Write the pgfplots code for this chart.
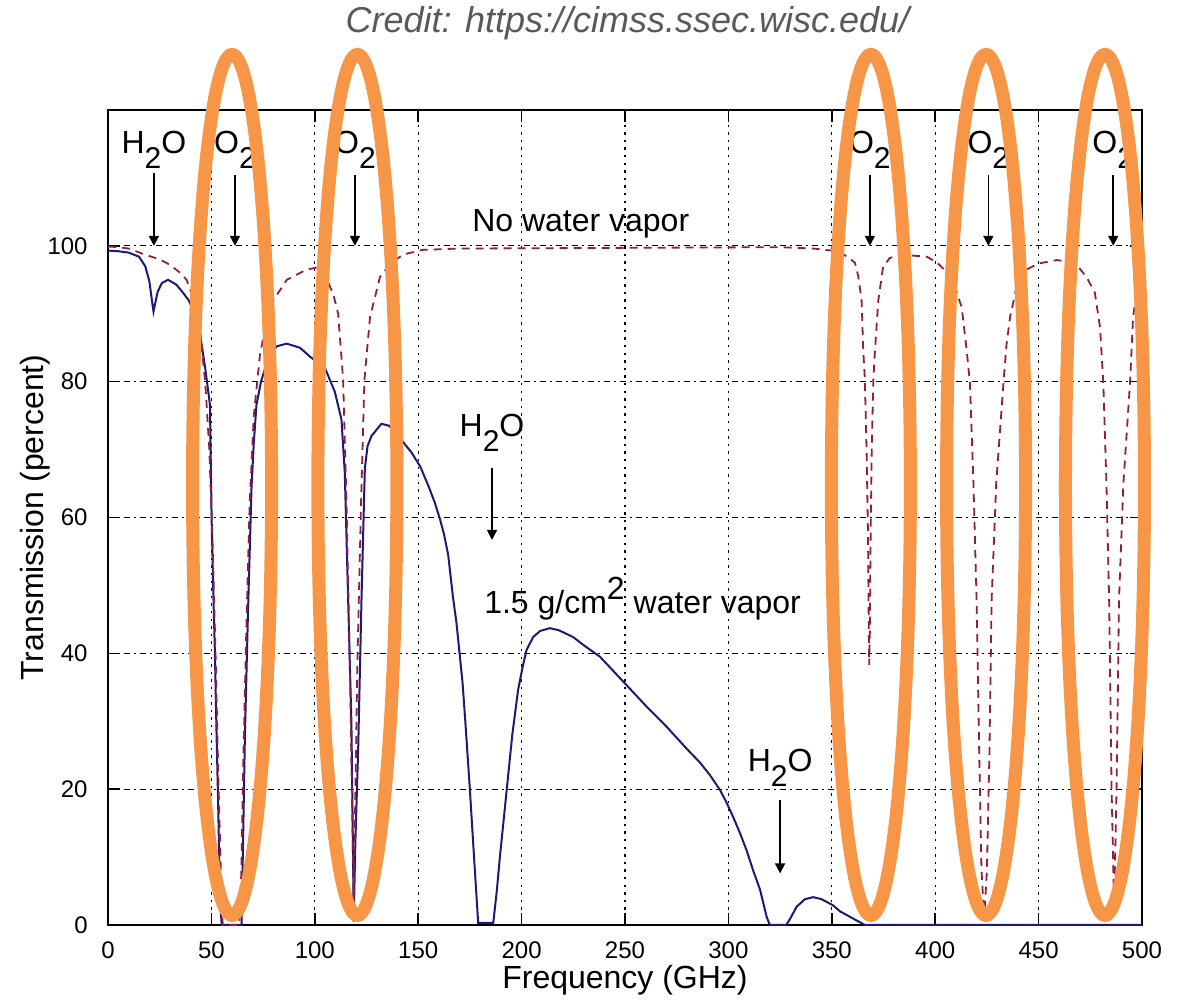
\documentclass[border=0pt]{standalone}
\usepackage{fontspec}
\setmainfont{Liberation Sans}
\usepackage{pgfplots}
\pgfplotsset{compat=1.18}
\usetikzlibrary{arrows.meta}

\definecolor{ringorange}{HTML}{F79646}
\definecolor{wetblue}{RGB}{30,25,115}
\definecolor{dryred}{RGB}{145,30,60}
\definecolor{creditgrey}{HTML}{595959}

% chemical formula with the low-set subscript of the original
\newcommand{\chem}[2]{#1\raisebox{-7.5pt}{\fontsize{15}{15}\selectfont #2}}
\newcommand{\annfont}{\fontsize{16}{16}\selectfont}

% 1.5 g/cm^2 water vapor
\pgfplotstableread{
f t
0 99.3
5 99.2
10 99.0
15 98.4
18 97.0
20 94.8
21 92.5
22 90.3
23 91.8
24 93.2
26 94.5
29 95.0
33 94.3
36 93.2
39 92.0
42 90.0
44.5 87.0
47 82.0
49.3 76.6
50.1 60
51 48
51.7 40
52.5 28
53.2 18.7
54.2 3.4
55 0
64.6 0
65.3 12
66.2 27.8
67.7 46.1
69.4 64.4
70.5 71
71.8 76.6
74 80
76.7 82.7
81.5 85.2
86.4 85.6
92.8 85.0
98 83.6
104.8 82.1
109.7 78.5
112.9 74.4
114.5 66.6
116.1 48.2
117.7 29.8
118.5 10
118.8 0.5
119.6 12
121 26.2
122.6 48.2
124.2 67.2
125.5 70.5
127.4 72.0
132.2 73.8
136 73.5
140.3 72.0
146.7 69.6
151 67.5
155 64.6
158 62.2
160.5 59.8
162.5 57.5
164.5 54.5
166.8 48.3
168.5 44.5
170 40
171.5 35.5
173 29
175 19.9
177 10
179 0.3
186.3 0.3
188 5
189.5 10
192.8 19.9
195.5 28
198.3 34.6
200.5 38
202.4 40.5
205.6 42.4
209 43.3
213.7 43.7
218 43.4
224.9 42.4
230 41.2
237.9 39.5
250.8 35.3
260 32.3
270.1 29.2
280 25.9
286.3 23.9
291 22.1
295.9 19.9
299 18.1
302.3 15.9
305.5 13.6
308.8 11
312 8
315.3 5.2
318.5 1.2
320 0
328 0
330 1
333 2.7
337 3.8
341 4.1
345 3.8
350.6 2.9
354 2
358.8 1.2
363.6 0.4
366 0
500 0
}\wettable

% no water vapor
\pgfplotstableread{
f t
0 99.9
5 99.8
10 99.6
17 98.8
25 98.0
30 97.2
35 96.0
38 95.0
41 92.5
44.5 87.6
47 80
49 70
50.5 57
52 40
53.5 20
55 3
55.5 0
63.5 0
64.5 8
65.5 25
67 45
68.5 62
70.5 75
73.5 84
77.4 90
80 92
86.5 95
96 96.5
101 96.8
106 95
109 92.8
111.3 90
113.7 80.3
115.3 62.5
116.9 38.7
118.2 15
118.8 3
119.4 15
120.6 38.7
122.4 62.5
124 80.3
126.7 89.5
131.5 95.4
136 97.2
142.6 98.7
152 99.4
170 99.6
250 99.7
325 99.8
341 99.6
350 99.3
354 99.0
358 98.3
361.2 97.5
362.8 95.5
364.4 92
365.2 84.7
366 80.3
366.8 70
367.5 57.7
367.9 43
368.1 38.3
368.4 43
368.8 57.7
369.3 70
370.1 80.3
370.9 84.7
372.5 92
374.8 96.9
378 98.2
383 98.7
396 98.4
401 97.5
405 96.3
408.6 94.7
412.8 91
415.2 84.7
416.8 79.8
418.5 65
420 48
421.3 25
422.4 8
423.7 1
425 8
426.2 25
427.3 48
429.5 65
433 79.8
434.5 85.5
436.2 89.5
439.4 94
444.2 96.5
450 97.4
458.7 97.9
464 97.7
468.4 97.2
473.2 95.4
477.2 93.1
479.7 88
481.3 79.8
482.8 65
484.1 48
485.3 20
486.5 3
487.7 20
488.9 48
491 65
494.2 79.8
495.7 89.5
498 94.7
500 96
}\drytable

\begin{document}
\begin{tikzpicture}
\begin{axis}[
    scale only axis,
    width=517pt, height=407.5pt,
    xmin=0, xmax=500, ymin=0, ymax=120,
    xtick={0,50,...,500},
    ytick={0,20,...,100},
    tick align=inside,
    major tick length=6pt,
    xtick pos=both, ytick pos=both,
    grid=major,
    major x grid style={black, line width=0.6pt, dash pattern=on 1.2pt off 2.6pt},
    major y grid style={black, line width=0.6pt, dash pattern=on 3pt off 2pt on 1pt off 2pt},
    axis line style={black, line width=1pt},
    tick style={black, line width=0.8pt},
    ticklabel style={font=\fontsize{12}{12}\selectfont, inner sep=1pt},
    xticklabel style={yshift=-7pt},
    yticklabel style={xshift=-9pt},
    /pgf/number format/assume math mode=true,
    xlabel={Frequency (GHz)},
    ylabel={Transmission (percent)},
    label style={font=\fontsize{16}{16}\selectfont, inner sep=1pt},
    xlabel style={at={(axis description cs:0.5,-0.0785)}, anchor=base},
    ylabel style={at={(axis description cs:-0.0706,0.5)}, anchor=center},
    clip=false,
]

\addplot[wetblue, line width=1pt] table[x=f, y=t] {\wettable};
\addplot[dryred, line width=0.9pt, dash pattern=on 4pt off 3pt] table[x=f, y=t] {\drytable};

% annotations
\node[anchor=base, font=\annfont] at (axis cs:22.2,113.6) {\chem{H}{2}O};
\draw[line width=0.8pt, -{Triangle[length=5pt,width=5pt]}] (axis cs:22.2,110.7) -- (axis cs:22.2,100);

\node[anchor=base, font=\annfont] at (axis cs:61.4,113.6) {\chem{O}{2}};
\draw[line width=0.8pt, -{Triangle[length=5pt,width=5pt]}] (axis cs:61.4,110.5) -- (axis cs:61.4,100);
\node[anchor=base, font=\annfont] at (axis cs:119.4,113.6) {\chem{O}{2}};
\draw[line width=0.8pt, -{Triangle[length=5pt,width=5pt]}] (axis cs:119.4,110.5) -- (axis cs:119.4,100);
\node[anchor=base, font=\annfont] at (axis cs:368.4,113.6) {\chem{O}{2}};
\draw[line width=0.8pt, -{Triangle[length=5pt,width=5pt]}] (axis cs:368.4,110.5) -- (axis cs:368.4,100);
\node[anchor=base, font=\annfont] at (axis cs:425.7,113.6) {\chem{O}{2}};
\draw[line width=0.8pt, -{Triangle[length=5pt,width=5pt]}] (axis cs:425.7,110.5) -- (axis cs:425.7,100);
\node[anchor=base, font=\annfont] at (axis cs:486.1,113.6) {\chem{O}{2}};
\draw[line width=0.8pt, -{Triangle[length=5pt,width=5pt]}] (axis cs:486.1,110.5) -- (axis cs:486.1,100);

\node[anchor=base, font=\annfont] at (axis cs:228.6,102.1) {No water vapor};
\node[anchor=base, font=\annfont] at (axis cs:185.7,71.9) {\chem{H}{2}O};
\draw[line width=0.8pt, -{Triangle[length=5pt,width=5pt]}] (axis cs:185.7,67.3) -- (axis cs:185.7,56.7);
\node[anchor=base, font=\annfont] at (axis cs:258.5,45.9) {1.5 g/cm\raisebox{7pt}{2} water vapor};
\node[anchor=base, font=\annfont] at (axis cs:325,22.6) {\chem{H}{2}O};
\draw[line width=0.8pt, -{Triangle[length=5pt,width=5pt]}] (axis cs:325,18.4) -- (axis cs:325,7.6);

% O2 absorption bands ringed
\draw[ringorange, line width=6.5pt] (axis cs:60.0,64.8) ellipse [x radius=19.75pt, y radius=215.25pt];
\draw[ringorange, line width=6.5pt] (axis cs:120.6,64.8) ellipse [x radius=19.75pt, y radius=215.25pt];
\draw[ringorange, line width=6.5pt] (axis cs:368.9,64.8) ellipse [x radius=19.75pt, y radius=215.25pt];
\draw[ringorange, line width=6.5pt] (axis cs:424.6,64.8) ellipse [x radius=19.75pt, y radius=215.25pt];
\draw[ringorange, line width=6.5pt] (axis cs:482.1,64.8) ellipse [x radius=19.75pt, y radius=215.25pt];

\node[anchor=base, font=\fontsize{18}{18}\selectfont\itshape, text=creditgrey]
  at (axis cs:251.2,131.4) {Credit: https://cimss.ssec.wisc.edu/};
\end{axis}
\pgfresetboundingbox
\path[use as bounding box] (-54pt,-37.5pt) rectangle (538.5pt,462.5pt);
\end{tikzpicture}
\end{document}
